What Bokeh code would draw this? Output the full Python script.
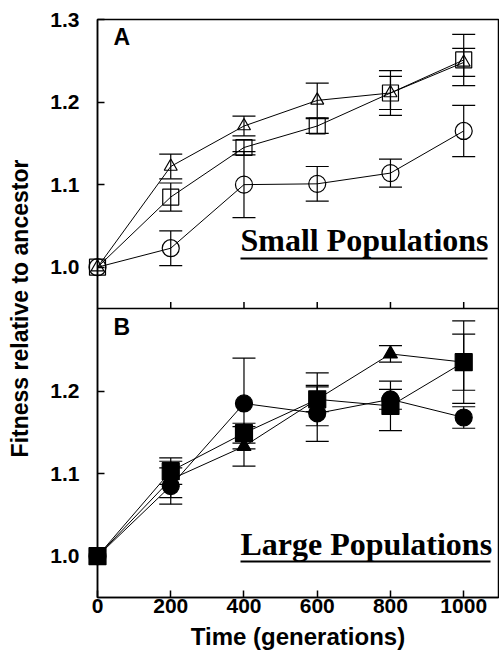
from bokeh.plotting import figure
from bokeh.models import (Range1d, FixedTicker, CustomJSTickFormatter, Whisker,
                          ColumnDataSource, Label, BoxAnnotation, Span, TeeHead)
from bokeh.embed import file_html
from bokeh.resources import INLINE

# ---------------- data ----------------
gens = [0, 200, 400, 600, 800, 1000]
x_ticks = [0, 200, 400, 600, 800, 1000]

# Panel A: small populations (open markers)
small_tri = [1.0, 1.122, 1.171, 1.202, 1.211, 1.248]
small_tri_err = [0.0, 0.015, 0.012, 0.021, 0.020, 0.017]
small_sq = [1.0, 1.085, 1.145, 1.171, 1.211, 1.251]
small_sq_err = [0.0, 0.017, 0.009, 0.009, 0.027, 0.031]
small_circ = [1.0, 1.023, 1.100, 1.101, 1.114, 1.165]
small_circ_err = [0.0, 0.021, 0.040, 0.021, 0.017, 0.031]

# Panel B: large populations (filled markers)
large_tri = [1.0, 1.093, 1.133, 1.190, 1.245, 1.235]
large_tri_err = [0.0, 0.022, 0.024, 0.015, 0.010, 0.034]
large_sq = [1.0, 1.103, 1.149, 1.190, 1.182, 1.235]
large_sq_err = [0.0, 0.016, 0.012, 0.032, 0.030, 0.050]
large_circ = [1.0, 1.085, 1.185, 1.173, 1.190, 1.168]
large_circ_err = [0.0, 0.022, 0.055, 0.034, 0.012, 0.013]

a_ticks = [1.0, 1.1, 1.2, 1.3]
b_ticks = [1.0, 1.1, 1.2]
A_RANGE = (0.60, 1.30)
B_RANGE = (0.95, 1.65)

x_label = "Time (generations)"
y_label = "Fitness relative to ancestor"
label_a = "A"
label_b = "B"
title_small = "Small Populations"
title_large = "Large Populations"

SANS = "Liberation Sans"
SERIF = "Liberation Serif"

# ---------------- figure ----------------
p = figure(width=499, height=652, output_backend="svg", toolbar_location=None,
           x_range=Range1d(0, 1095), y_range=Range1d(*B_RANGE),
           min_border_left=97, min_border_right=1, min_border_top=19,
           min_border_bottom=55, x_axis_label=x_label, y_axis_label=y_label)
p.extra_y_ranges = {"A": Range1d(*A_RANGE)}
p.grid.visible = False
p.background_fill_color = "white"
p.border_fill_color = "white"
p.outline_line_color = "black"
p.outline_line_width = 1.5

offset = B_RANGE[1] - A_RANGE[1]
split = B_RANGE[0] + (B_RANGE[1] - B_RANGE[0]) / 2  # divider, in panel-B units

for ax in (p.xaxis[0], p.yaxis[0]):
    ax.major_tick_in = 7
    ax.major_tick_out = 0
    ax.minor_tick_line_color = None
    ax.axis_line_width = 1.5
    ax.major_tick_line_width = 1.5
    ax.major_label_text_font = SANS
    ax.major_label_text_font_style = "bold"
    ax.major_label_text_font_size = "21px"
    ax.major_label_text_color = "black"
    ax.axis_label_text_font = SANS
    ax.axis_label_text_font_style = "bold"
    ax.axis_label_text_color = "black"

p.xaxis.ticker = FixedTicker(ticks=x_ticks)
p.xaxis.major_label_standoff = 1
p.xaxis.axis_label_standoff = 7
p.xaxis.axis_label_text_font_size = "24px"

p.yaxis.ticker = FixedTicker(ticks=b_ticks + [t + offset for t in a_ticks])
p.yaxis.formatter = CustomJSTickFormatter(
    args=dict(split=split, offset=offset),
    code="const v = tick > split + 1e-9 ? tick - offset : tick; return v.toFixed(1);")
p.yaxis.major_label_standoff = 18
p.yaxis.axis_label_standoff = 14
p.yaxis.axis_label_text_font_size = "23px"

# divider between the two panels, with upward ticks for panel A
p.add_layout(Span(location=split, dimension="width", line_color="black", line_width=1.5))
p.segment(x0=x_ticks[1:], y0=[split] * 5, x1=x_ticks[1:], y1=[split + 0.008] * 5,
          line_color="black", line_width=1.5)


def series(vals, errs, rng, marker, size, filled):
    p.line(gens, vals, y_range_name=rng, line_color="black", line_width=1)
    src = ColumnDataSource(dict(base=gens[1:],
                                upper=[v + e for v, e in zip(vals[1:], errs[1:])],
                                lower=[v - e for v, e in zip(vals[1:], errs[1:])]))
    w = Whisker(source=src, base="base", upper="upper", lower="lower",
                y_range_name=rng, line_color="black", line_width=1.2,
                upper_head=TeeHead(size=23, line_color="black", line_width=1.2),
                lower_head=TeeHead(size=23, line_color="black", line_width=1.2))
    p.add_layout(w)
    p.scatter(gens, vals, y_range_name=rng, marker=marker, size=size,
              fill_color="black" if filled else None, line_color="black",
              line_width=1.2, level="overlay")


series(small_circ, small_circ_err, "A", "circle", 17, False)
series(small_sq, small_sq_err, "A", "square", 16, False)
series(small_tri, small_tri_err, "A", "triangle", 13, False)

series(large_circ, large_circ_err, "default", "circle", 17, True)
series(large_tri, large_tri_err, "default", "triangle", 14, True)
series(large_sq, large_sq_err, "default", "square", 17, True)


# ---------------- texts ----------------
def lab(text, x, y, font, size):
    p.add_layout(Label(text=text, x=x, y=y, x_units="screen", y_units="screen",
                       text_font=font, text_font_size=size, text_font_style="bold",
                       text_color="black", text_baseline="bottom"))


lab(label_a, 16, 548, SANS, "23px")
lab(label_b, 16, 258, SANS, "23px")
lab(title_small, 143, 340, SERIF, "32px")
lab(title_large, 143, 36, SERIF, "32px")

# underlines of the two titles
for left, right, bottom in ((143, 390, 338), (143, 393, 35)):
    p.add_layout(BoxAnnotation(left=left, right=right, bottom=bottom, top=bottom + 2,
                               left_units="screen", right_units="screen",
                               bottom_units="screen", top_units="screen",
                               fill_color="black", fill_alpha=1, line_color=None))

open("out.html", "w").write(file_html(p, INLINE))
